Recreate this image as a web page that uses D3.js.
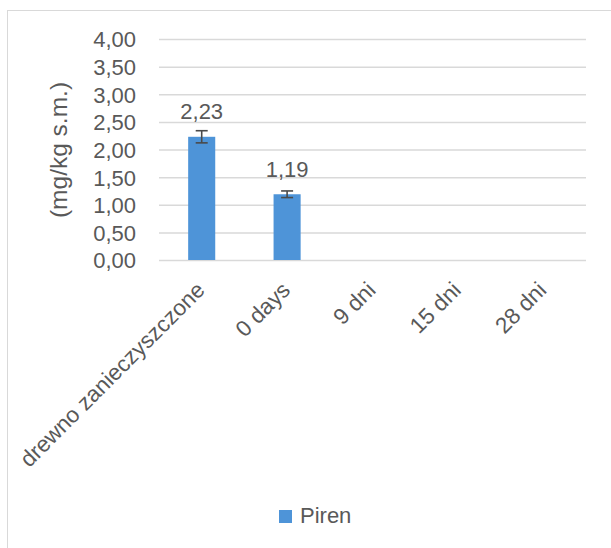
<!DOCTYPE html>
<html><head><meta charset="utf-8">
<script src="https://cdn.jsdelivr.net/npm/d3@7"></script>
<style>html,body{margin:0;padding:0;background:#fff;}svg{display:block;}</style>
</head><body>
<svg id="c" width="611" height="548"></svg>
<script>
const categories = ["drewno zanieczyszczone","0 days","9 dni","15 dni","28 dni"];
const seriesName = "Piren";
const values = [2.23, 1.19, null, null, null];
const errors = [0.11, 0.06, null, null, null];
const valueLabels = ["2,23","1,19",null,null,null];
const yTicks = [0,0.5,1,1.5,2,2.5,3,3.5,4];
const yTickLabels = ["0,00","0,50","1,00","1,50","2,00","2,50","3,00","3,50","4,00"];
const yTitle = "(mg/kg s.m.)";

const svg=d3.select("#c");
const font="'Liberation Sans', Arial, sans-serif";
const fs=22;
const txt="#595959";
const barColor="#4E94D8";
const plot={l:159,r:586,t:39,b:260};

svg.append("rect").attr("x",7.5).attr("y",10.5).attr("width",640).attr("height",600)
  .attr("fill","#fff").attr("stroke","#d9d9d9").attr("stroke-width",1);

const x=d3.scaleBand().domain(categories).range([plot.l,plot.r]).paddingInner(0.683).paddingOuter(0.3415);
const y=d3.scaleLinear().domain([0,4]).range([plot.b,plot.t]);

const yAxis=d3.axisLeft(y).tickValues(yTicks).tickSize(-(plot.r-plot.l)).tickFormat((d,i)=>yTickLabels[i]).tickPadding(23);
const ga=svg.append("g").attr("transform",`translate(${plot.l},0)`).call(yAxis);
ga.select(".domain").remove();
ga.selectAll("line").attr("stroke","#d9d9d9").attr("stroke-width",1.5);
ga.selectAll("text").attr("font-family",font).attr("font-size",fs).attr("fill",txt).attr("dy","0.36em");

const data=categories.map((c,i)=>({c,v:values[i],e:errors[i],lab:valueLabels[i]})).filter(d=>d.v!=null);
svg.append("g").selectAll("rect").data(data).join("rect")
  .attr("x",d=>x(d.c)).attr("width",x.bandwidth())
  .attr("y",d=>y(d.v)).attr("height",d=>y(0)-y(d.v)).attr("fill",barColor);

const eg=svg.append("g").attr("stroke","#4a4a4a").attr("stroke-width",1.6);
data.forEach(d=>{
  const cx=x(d.c)+x.bandwidth()/2;
  eg.append("line").attr("x1",cx).attr("x2",cx).attr("y1",y(d.v+d.e)).attr("y2",y(d.v-d.e));
  eg.append("line").attr("x1",cx-6).attr("x2",cx+6).attr("y1",y(d.v+d.e)).attr("y2",y(d.v+d.e));
  eg.append("line").attr("x1",cx-6).attr("x2",cx+6).attr("y1",y(d.v-d.e)).attr("y2",y(d.v-d.e));
});

svg.append("g").selectAll("text").data(data).join("text")
  .attr("x",d=>x(d.c)+x.bandwidth()/2).attr("y",d=>y(d.v)-17.5)
  .attr("text-anchor","middle").attr("font-family",font).attr("font-size",fs).attr("fill",txt)
  .text(d=>d.lab);

const xl=svg.append("g");
categories.forEach(c=>{
  const cx=x(c)+x.bandwidth()/2;
  xl.append("text").attr("transform",`translate(${cx-7},${280}) rotate(-45)`)
    .attr("text-anchor","end").attr("dy","0.72em")
    .attr("font-family",font).attr("font-size",22.5).attr("fill",txt).text(c);
});

svg.append("text").attr("transform",`translate(67,150) rotate(-90)`)
  .attr("text-anchor","middle").attr("font-family",font).attr("font-size",24.5).attr("fill",txt).text(yTitle);

const lg=svg.append("g");
lg.append("rect").attr("x",279).attr("y",510).attr("width",13).attr("height",13).attr("fill",barColor);
lg.append("text").attr("x",300).attr("y",523).attr("font-family",font).attr("font-size",fs).attr("fill",txt).text(seriesName);
</script>
</body></html>
